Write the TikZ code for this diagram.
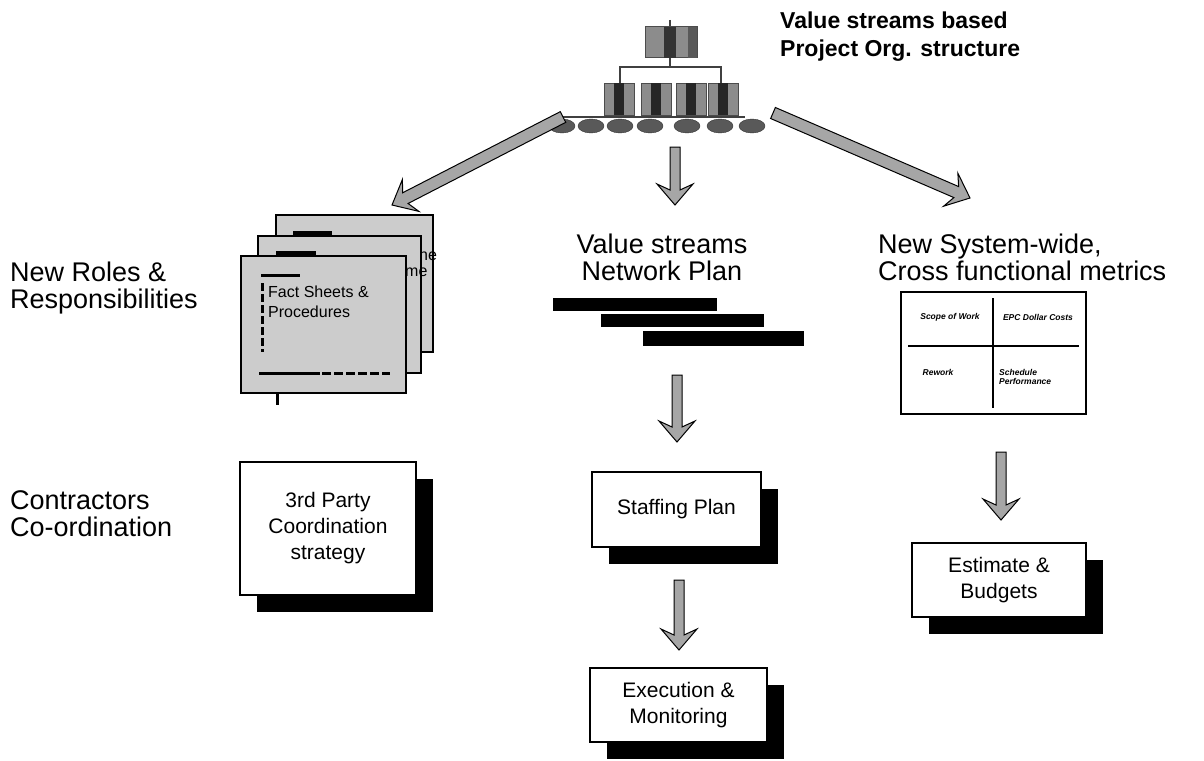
\documentclass[tikz,border=0pt]{standalone}
\usepackage{fontspec}
\setmainfont{Liberation Sans}
\usetikzlibrary{calc,shadows}
\newcommand\titlesize{\fontsize{23}{28}\selectfont\bfseries}
\newcommand\labelsize{\fontsize{27}{27}\selectfont}
\newcommand\boxsize{\fontsize{21}{26}\selectfont}
\newcommand\sheetsize{\fontsize{16}{20}\selectfont}
\newcommand\cellsize{\fontsize{8.5}{9}\selectfont\bfseries\itshape}
\newcommand\blockarrow[3][5pt]{%
  \filldraw[arrowfill] ($(#2)!#1!90:(#3)$)
    -- ($(#3)!15pt!(#2)!#1!-90:(#2)$)
    -- ($(#3)!21pt!(#2)!18pt!-90:(#2)$)
    -- (#3)
    -- ($(#3)!21pt!(#2)!18pt!90:(#2)$)
    -- ($(#3)!15pt!(#2)!#1!90:(#2)$)
    -- ($(#2)!#1!-90:(#3)$) -- cycle;}
\begin{document}
\begin{tikzpicture}[x=1pt,y=-1pt,
  label/.style={anchor=north west,inner sep=0pt,align=left,font=\labelsize},
  planbox/.style={draw,line width=1.2pt,fill=white,inner sep=0pt,align=center,font=\boxsize,
    drop shadow={shadow xshift=17pt,shadow yshift=-17pt,opacity=1,fill=black}},
  sheet/.style={draw,line width=1.2pt,fill=black!20},
  arrowfill/.style={draw,line width=1pt,fill=black!35},
  cell/.style={inner sep=0pt,font=\cellsize},
  orgbox/.style={fill=black!45,draw=black!70,line width=1pt},
  orgline/.style={draw=black!75,line width=2pt}]
\useasboundingbox (0,0) rectangle (1204,760);

\node[label,font=\titlesize] (title) at (780,12) {Value streams based\\Project Org. structure};
\node[label,align=center,anchor=north] (plan) at (662,234) {Value streams\\Network Plan};
\node[label] (metrics) at (878,234) {New System-wide,\\Cross functional metrics};
\node[label] (roles) at (10,262) {New Roles \&\\Responsibilities};
\node[label] (contr) at (10,490) {Contractors\\Co-ordination};

\draw[orgline] (670,20) -- (670,67);
\draw[orgline] (620,83) -- (620,67) -- (721,67) -- (721,83);
\node[orgbox,minimum width=52pt,minimum height=31pt,inner sep=0pt] (org) at (671,42.5) {};
\fill[black!80] (664,27) rectangle (676,58);
\fill[black!65] (688,27) rectangle (697,58);
\foreach \x in {604,641,676,708} {
  \filldraw[orgbox] (\x,83) rectangle ++(30,32);
  \fill[black!85] (\x+10,83) rectangle ++(10,32);
}
\draw[orgline] (560,117) -- (745,117);
\foreach \x in {562,591,620,650,687,720,752}
  \filldraw[fill=black!65,draw=black!80] (\x,126) ellipse [x radius=13pt,y radius=7pt];

\coordinate (a1s) at (563,117); \coordinate (a1e) at (392,205);
\coordinate (a2s) at (675,147); \coordinate (a2e) at (675,205);
\coordinate (a3s) at (773,113); \coordinate (a3e) at (970,198);
\blockarrow[6pt]{a1s}{a1e}
\blockarrow{a2s}{a2e}
\blockarrow[6pt]{a3s}{a3e}

\draw[sheet] (276,215) rectangle (433,352);
\node[anchor=west,inner sep=0pt,font=\sheetsize] (ne) at (419,256) {ne};
\draw[line width=4pt] (293,233) -- (332,233);
\draw[sheet] (258,236) rectangle (421,373);
\node[anchor=west,inner sep=0pt,font=\sheetsize] (me) at (405,272) {me};
\draw[line width=4pt] (276,253) -- (316,253);
\draw[sheet] (241,256) rectangle (406,393);
\draw[line width=3pt] (261,275) -- (300,275);
\draw[line width=3pt,dash pattern=on 8pt off 3pt] (262,283) -- (262,352);
\draw[line width=3pt] (259,373) -- (320,373);
\draw[line width=3pt,dash pattern=on 9pt off 3pt] (322,373) -- (390,373);
\draw[line width=3pt] (277,393) -- (277,405);
\node[anchor=north west,inner sep=0pt,align=left,font=\sheetsize] (facts) at (268,286) {Fact Sheets \&\\Procedures};

\fill (553,298) rectangle (717,311);
\fill (601,314) rectangle (764,327);
\fill (643,331) rectangle (804,346);

\node[draw,line width=1.5pt,minimum width=185pt,minimum height=122pt,inner sep=0pt] (grid) at (993.5,353) {};
\draw[line width=1.5pt] (993,298) -- (993,408);
\draw[line width=1.5pt] (908,346) -- (1079,346);
\node[cell] (scope) at (950,317) {Scope of Work};
\node[cell] (epc) at (1038,317) {EPC Dollar Costs};
\node[cell] (rework) at (938,372) {Rework};
\node[cell,align=left,anchor=west] (sched) at (999,377) {Schedule\\Performance};

\node[planbox,minimum width=176pt,minimum height=133pt] (third) at (328,528.5) {3rd Party\\Coordination\\strategy};
\node[planbox,minimum width=169pt,minimum height=75pt] (staff) at (676.5,509.5) {Staffing Plan};
\node[planbox,minimum width=177pt,minimum height=74pt] (exec) at (678.5,705) {Execution \&\\Monitoring};
\node[planbox,minimum width=174pt,minimum height=74pt] (budget) at (999,580) {Estimate \&\\Budgets};

\coordinate (a4s) at (677,375); \coordinate (a4e) at (677,442);
\coordinate (a5s) at (679,580); \coordinate (a5e) at (679,650);
\coordinate (a6s) at (1001,452); \coordinate (a6e) at (1001,520);
\blockarrow{a4s}{a4e}
\blockarrow{a5s}{a5e}
\blockarrow{a6s}{a6e}
\end{tikzpicture}
\end{document}
